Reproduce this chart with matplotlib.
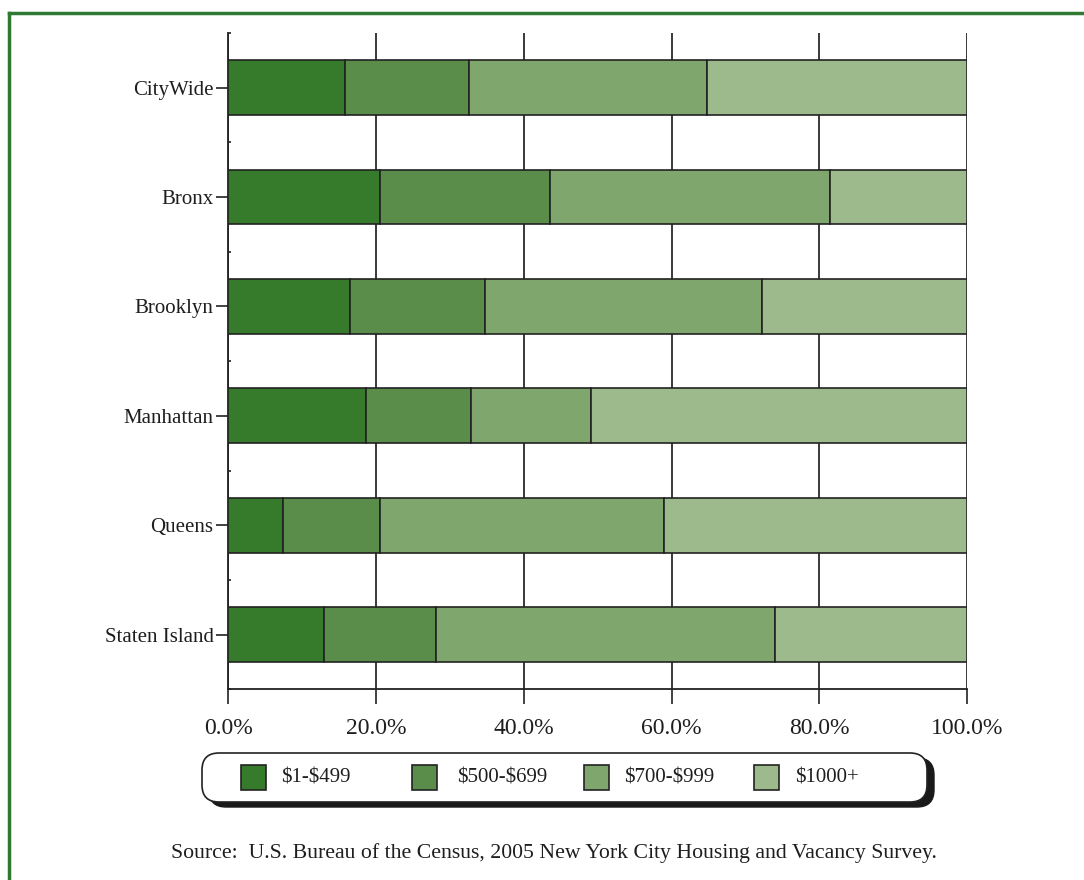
import matplotlib
matplotlib.use("Agg")
import matplotlib.pyplot as plt
from matplotlib.patches import FancyBboxPatch, Rectangle
from matplotlib.lines import Line2D
from matplotlib.transforms import IdentityTransform
from matplotlib.ticker import FixedLocator

# Share of renter households by contract rent, per borough (percent)
boroughs = ["CityWide", "Bronx", "Brooklyn", "Manhattan", "Queens", "Staten Island"]
rent_ranges = ["$1-$499", "$500-$699", "$700-$999", "$1000+"]
share_1_499 = [15.8, 20.5, 16.5, 18.6, 7.4, 13.0]
share_500_699 = [16.8, 23.0, 18.3, 14.2, 13.2, 15.1]
share_700_999 = [32.2, 37.9, 37.4, 16.3, 38.4, 45.9]
share_1000_plus = [35.2, 18.6, 27.8, 50.9, 41.0, 26.0]
x_ticks = [0, 20, 40, 60, 80, 100]
source_note = ("Source:  U.S. Bureau of the Census, 2005 New York City "
               "Housing and Vacancy Survey.")

series = [share_1_499, share_500_699, share_700_999, share_1000_plus]
colors = ["#367a2c", "#5a8d4a", "#7fa76d", "#9dba8c"]
serif = ["Liberation Serif", "DejaVu Serif"]
text_color = "#1e1e1e"


def plain(s):
    """Escape dollar signs so they are not read as mathtext."""
    return s.replace("$", r"\$")


W, H = 1084, 880
fig = plt.figure(figsize=(W / 100, H / 100), dpi=100)
fig.patch.set_facecolor("white")

# axes placed in pixel terms
left, right, top, bottom = 228.3, 967.0, 33.0, 689.3
ax = fig.add_axes([left / W, 1 - bottom / H, (right - left) / W, (bottom - top) / H])

ypos = list(range(len(boroughs)))
cum = [0.0] * len(boroughs)
for vals, col, name in zip(series, colors, rent_ranges):
    ax.barh(ypos, vals, left=cum, height=0.5, color=col, edgecolor="#222222",
            linewidth=1.2, label=plain(name), zorder=3)
    cum = [c + v for c, v in zip(cum, vals)]

ax.set_xlim(0, 100)
ax.set_ylim(len(boroughs) - 0.5, -0.5)

# vertical grid lines
ax.xaxis.set_major_locator(FixedLocator(x_ticks))
ax.grid(axis="x", color="#2a2a2a", linewidth=1.3, zorder=0)
ax.set_axisbelow(True)

ax.set_xticklabels([f"{v:.1f}%" for v in x_ticks], family=serif, fontsize=17,
                   color=text_color)
ax.set_yticks(ypos)
ax.set_yticklabels(boroughs, family=serif, fontsize=15, color=text_color)
ax.yaxis.set_minor_locator(FixedLocator([i - 0.5 for i in range(len(boroughs) + 1)]))

ax.tick_params(axis="x", which="major", direction="out", length=11, width=1.2,
               color="#222222", pad=10)
ax.tick_params(axis="y", which="major", direction="out", length=8.6, width=1.2,
               color="#222222", pad=2)
ax.tick_params(axis="y", which="minor", direction="in", length=2, width=1.2,
               color="#222222")

for side in ("top", "right"):
    ax.spines[side].set_visible(False)
for side in ("left", "bottom"):
    ax.spines[side].set_color("#222222")
    ax.spines[side].set_linewidth(1.3)

# legend panel with drop shadow (pixel coordinates)
ident = IdentityTransform()
bx0, bx1, by_top, by_bot = 202, 927, 753, 802
bw, bh = bx1 - bx0, by_bot - by_top
shadow = FancyBboxPatch((bx0 + 7, H - by_bot - 5), bw, bh,
                        boxstyle="round,pad=0,rounding_size=17",
                        facecolor="#1a1a1a", edgecolor="#1a1a1a",
                        transform=ident, zorder=5)
box = FancyBboxPatch((bx0, H - by_bot), bw, bh,
                     boxstyle="round,pad=0,rounding_size=17",
                     facecolor="white", edgecolor="#222222", linewidth=1.2,
                     transform=ident, zorder=6)
fig.add_artist(shadow)
fig.add_artist(box)

patch_x = [241, 412, 584, 754]
text_x = [281, 457, 624, 795]
for px, tx, col, name in zip(patch_x, text_x, colors, rent_ranges):
    fig.add_artist(Rectangle((px, H - 790), 25, 25, facecolor=col,
                             edgecolor="#222222", linewidth=1.2,
                             transform=ident, zorder=7))
    fig.text(tx / W, 1 - 778 / H, plain(name), family=serif, fontsize=15,
             color=text_color, ha="left", va="center", zorder=8)

fig.text(554 / W, 1 - 853 / H, source_note, family=serif, fontsize=15.7,
         color=text_color, ha="center", va="center")

# green page frame
frame_col = "#2f7a33"
fig.add_artist(Line2D([9, 9], [0, H - 13], color=frame_col, linewidth=2.5,
                      transform=ident))
fig.add_artist(Line2D([9, W], [H - 13, H - 13], color=frame_col, linewidth=2.5,
                      transform=ident))

fig.savefig("out.png", dpi=100)
